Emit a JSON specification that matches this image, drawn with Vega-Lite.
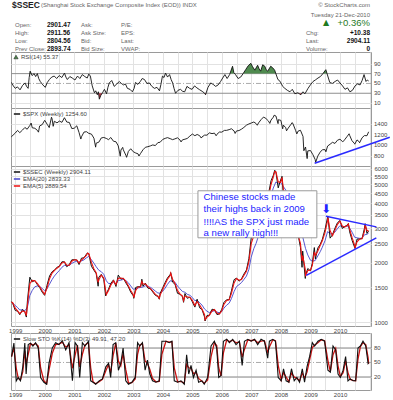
{
"$schema": "https://vega.github.io/schema/vega-lite/v6.json",
"padding": {"left": 8, "top": 0, "right": 0, "bottom": 0},
"spacing": 0,
"bounds": "flush",
"resolve": {"scale": {"color": "independent", "y": "independent", "x": "independent"}},
"config": {
  "font": "Liberation Sans",
  "view": {"stroke": "#9a9a9a", "strokeWidth": 1},
  "axis": {"domain": false, "ticks": false, "title": null, "labelFontSize": 6, "labelColor": "#444", "gridColor": "#e2e2e2", "gridWidth": 1, "labelPadding": 3, "labelOverlap": false},
  "legend": {"orient": "top-left", "offset": 2, "title": null, "labelFontSize": 6, "labelColor": "#444", "symbolType": "stroke", "symbolSize": 40, "symbolStrokeWidth": 1.5, "rowPadding": 0, "padding": 0, "labelLimit": 400, "labelOffset": 2},
  "text": {"font": "Liberation Sans"}
},
"datasets": {
  "hdr": [
    {"k":"t1","c":-1,"r":-0.5,"t":"$SSEC"},
    {"k":"t2","c":-1,"r":-0.5,"t":"(Shanghai Stock Exchange Composite Index (EOD)) INDX"},
    {"k":"rn","c":6,"r":-0.5,"t":"© StockCharts.com"},
    {"k":"rn","c":6,"r":0.75,"t":"Tuesday  21-Dec-2010"},
    {"k":"tri","c":5,"r":1.75,"t":"▲"},
    {"k":"pct","c":6,"r":1.75,"t":"+0.36%"},
    {"k":"lab","c":0,"r":2,"t":"Open:"},
    {"k":"lab","c":0,"r":3,"t":"High:"},
    {"k":"lab","c":0,"r":4,"t":"Low:"},
    {"k":"lab","c":0,"r":5,"t":"Prev Close:"},
    {"k":"val","c":1,"r":2,"t":"2901.47"},
    {"k":"val","c":1,"r":3,"t":"2911.56"},
    {"k":"val","c":1,"r":4,"t":"2804.56"},
    {"k":"val","c":1,"r":5,"t":"2893.74"},
    {"k":"lab","c":2,"r":2,"t":"Ask:"},
    {"k":"lab","c":2,"r":3,"t":"Ask Size:"},
    {"k":"lab","c":2,"r":4,"t":"Bid:"},
    {"k":"lab","c":2,"r":5,"t":"Bid Size:"},
    {"k":"lab","c":3,"r":2,"t":"P/E:"},
    {"k":"lab","c":3,"r":3,"t":"EPS:"},
    {"k":"lab","c":3,"r":4,"t":"Last:"},
    {"k":"lab","c":3,"r":5,"t":"VWAP:"},
    {"k":"lab","c":4,"r":3,"t":"Chg:"},
    {"k":"lab","c":4,"r":4,"t":"Last:"},
    {"k":"lab","c":4,"r":5,"t":"Volume:"},
    {"k":"rv","c":6,"r":3,"t":"+10.38"},
    {"k":"rv","c":6,"r":4,"t":"2904.11"},
    {"k":"rv","c":6,"r":5,"t":"0"}
  ],
  "rsiTicks": [{"y":10},{"y":30},{"y":50},{"y":70},{"y":90}],
  "spxTicks": [{"y":800},{"y":1000},{"y":1200},{"y":1400}],
  "stoTicks": [{"y":20},{"y":50},{"y":80}],
  "rsi": [
    {"d":"1998-11-15","v":52},{"d":"1998-12-08","v":45},{"d":"1999-01-01","v":40},{"d":"1999-01-28","v":43},{"d":"1999-03-01","v":37},{"d":"1999-04-01","v":46},{"d":"1999-05-03","v":51},{"d":"1999-05-20","v":44},{"d":"1999-06-09","v":40},{"d":"1999-06-22","v":62},{"d":"1999-07-04","v":75},{"d":"1999-07-28","v":66},{"d":"1999-08-22","v":70},{"d":"1999-09-10","v":64},{"d":"1999-10-01","v":70},{"d":"1999-10-18","v":60},{"d":"1999-11-06","v":54},{"d":"1999-12-08","v":47},
    {"d":"2000-01-07","v":42},{"d":"2000-02-01","v":52},{"d":"2000-02-27","v":58},{"d":"2000-03-27","v":63},{"d":"2000-04-27","v":65},{"d":"2000-05-27","v":60},{"d":"2000-06-27","v":66},{"d":"2000-07-30","v":62},{"d":"2000-09-01","v":71},{"d":"2000-09-18","v":63},{"d":"2000-10-06","v":58},{"d":"2000-11-06","v":64},{"d":"2000-12-06","v":61},
    {"d":"2001-01-08","v":57},{"d":"2001-02-09","v":65},{"d":"2001-03-10","v":60},{"d":"2001-04-09","v":68},{"d":"2001-05-10","v":64},{"d":"2001-06-09","v":61},{"d":"2001-06-28","v":69},{"d":"2001-07-18","v":65},{"d":"2001-08-10","v":45},{"d":"2001-09-06","v":31},{"d":"2001-09-22","v":35},{"d":"2001-10-12","v":27},{"d":"2001-10-25","v":33},{"d":"2001-11-06","v":18},{"d":"2001-11-25","v":26},{"d":"2001-12-15","v":31},
    {"d":"2002-01-08","v":38},{"d":"2002-02-03","v":29},{"d":"2002-02-20","v":42},{"d":"2002-03-09","v":51},{"d":"2002-04-08","v":56},{"d":"2002-05-09","v":44},{"d":"2002-06-10","v":49},{"d":"2002-07-12","v":54},{"d":"2002-08-05","v":50},{"d":"2002-09-01","v":47},{"d":"2002-09-25","v":49},{"d":"2002-10-19","v":40},{"d":"2002-11-20","v":38},{"d":"2002-12-20","v":33},
    {"d":"2003-01-10","v":40},{"d":"2003-01-27","v":52},{"d":"2003-02-25","v":48},{"d":"2003-03-28","v":54},{"d":"2003-04-20","v":60},{"d":"2003-05-18","v":58},{"d":"2003-06-18","v":50},{"d":"2003-07-18","v":51},{"d":"2003-08-18","v":44},{"d":"2003-09-18","v":40},{"d":"2003-10-20","v":42},{"d":"2003-11-20","v":35},{"d":"2003-12-08","v":48},{"d":"2003-12-27","v":65},
    {"d":"2004-01-15","v":62},{"d":"2004-02-03","v":71},{"d":"2004-02-28","v":63},{"d":"2004-03-24","v":68},{"d":"2004-04-12","v":58},{"d":"2004-05-01","v":51},{"d":"2004-05-18","v":40},{"d":"2004-06-06","v":30},{"d":"2004-07-06","v":36},{"d":"2004-08-06","v":38},{"d":"2004-09-01","v":34},{"d":"2004-09-27","v":33},{"d":"2004-10-25","v":44},{"d":"2004-11-27","v":40},{"d":"2004-12-27","v":38},
    {"d":"2005-01-27","v":45},{"d":"2005-02-25","v":41},{"d":"2005-04-01","v":37},{"d":"2005-05-01","v":34},{"d":"2005-06-01","v":30},{"d":"2005-06-12","v":27},{"d":"2005-07-12","v":42},{"d":"2005-08-15","v":51},{"d":"2005-09-15","v":48},{"d":"2005-10-15","v":44},{"d":"2005-11-15","v":47},{"d":"2005-12-15","v":54},
    {"d":"2006-01-10","v":61},{"d":"2006-02-06","v":68},{"d":"2006-03-06","v":60},{"d":"2006-04-06","v":68},{"d":"2006-05-12","v":85},{"d":"2006-05-28","v":72},{"d":"2006-06-18","v":68},{"d":"2006-07-20","v":60},{"d":"2006-08-21","v":63},{"d":"2006-09-20","v":70},{"d":"2006-10-21","v":78},{"d":"2006-11-22","v":86},{"d":"2006-12-24","v":91},
    {"d":"2007-01-15","v":84},{"d":"2007-02-12","v":77},{"d":"2007-03-18","v":87},{"d":"2007-04-05","v":80},{"d":"2007-04-25","v":75},{"d":"2007-05-20","v":88},{"d":"2007-06-15","v":85},{"d":"2007-07-01","v":78},{"d":"2007-07-21","v":75},{"d":"2007-08-27","v":85},{"d":"2007-09-20","v":82},{"d":"2007-10-15","v":77},{"d":"2007-11-24","v":58},{"d":"2007-12-12","v":56},
    {"d":"2008-01-01","v":51},{"d":"2008-01-22","v":44},{"d":"2008-02-18","v":40},{"d":"2008-03-20","v":36},{"d":"2008-04-21","v":33},{"d":"2008-05-20","v":38},{"d":"2008-06-21","v":29},{"d":"2008-07-28","v":31},{"d":"2008-08-15","v":29},{"d":"2008-09-03","v":27},{"d":"2008-09-28","v":33},{"d":"2008-10-24","v":29},{"d":"2008-12-01","v":40},{"d":"2008-12-30","v":47},
    {"d":"2009-02-01","v":54},{"d":"2009-03-01","v":57},{"d":"2009-04-03","v":61},{"d":"2009-05-03","v":64},{"d":"2009-06-03","v":70},{"d":"2009-07-09","v":78},{"d":"2009-08-27","v":52},{"d":"2009-09-28","v":50},{"d":"2009-11-01","v":54},{"d":"2009-12-01","v":57},
    {"d":"2010-01-01","v":51},{"d":"2010-02-01","v":45},{"d":"2010-03-03","v":38},{"d":"2010-04-03","v":41},{"d":"2010-05-03","v":33},{"d":"2010-06-03","v":36},{"d":"2010-07-06","v":45},{"d":"2010-08-05","v":49},{"d":"2010-09-06","v":47},{"d":"2010-10-01","v":56},{"d":"2010-10-25","v":68},{"d":"2010-11-18","v":54},{"d":"2010-12-05","v":57},{"d":"2010-12-21","v":55}
  ],
  "rsiHi": [
    {"d":"1999-06-29","v":70,"s":"a"},{"d":"1999-07-04","v":75,"s":"a"},{"d":"1999-07-17","v":70,"s":"a"},
    {"d":"2006-04-10","v":70,"s":"b"},{"d":"2006-05-12","v":85,"s":"b"},{"d":"2006-05-28","v":72,"s":"b"},{"d":"2006-06-07","v":70,"s":"b"},
    {"d":"2006-09-20","v":70,"s":"c"},{"d":"2006-10-21","v":78,"s":"c"},{"d":"2006-11-22","v":86,"s":"c"},{"d":"2006-12-24","v":91,"s":"c"},{"d":"2007-01-15","v":84,"s":"c"},{"d":"2007-02-12","v":77,"s":"c"},{"d":"2007-03-18","v":87,"s":"c"},{"d":"2007-04-05","v":80,"s":"c"},{"d":"2007-04-25","v":75,"s":"c"},{"d":"2007-05-20","v":88,"s":"c"},{"d":"2007-06-15","v":85,"s":"c"},{"d":"2007-07-01","v":78,"s":"c"},{"d":"2007-07-21","v":75,"s":"c"},{"d":"2007-08-27","v":85,"s":"c"},{"d":"2007-09-20","v":82,"s":"c"},{"d":"2007-10-15","v":77,"s":"c"},{"d":"2007-10-30","v":70,"s":"c"},
    {"d":"2009-06-03","v":70,"s":"d"},{"d":"2009-07-09","v":78,"s":"d"},{"d":"2009-07-24","v":70,"s":"d"}
  ],
  "rsiLo": [
    {"d":"2001-10-04","v":30,"s":"a"},{"d":"2001-10-12","v":27,"s":"a"},{"d":"2001-10-18","v":30,"s":"a"},
    {"d":"2001-10-27","v":30,"s":"b"},{"d":"2001-11-06","v":18,"s":"b"},{"d":"2001-11-25","v":26,"s":"b"},{"d":"2001-12-11","v":30,"s":"b"},
    {"d":"2002-01-31","v":30,"s":"c"},{"d":"2002-02-03","v":29,"s":"c"},{"d":"2002-02-04","v":30,"s":"c"},
    {"d":"2005-06-01","v":30,"s":"d"},{"d":"2005-06-12","v":27,"s":"d"},{"d":"2005-06-18","v":30,"s":"d"},
    {"d":"2008-06-18","v":30,"s":"e"},{"d":"2008-06-21","v":29,"s":"e"},{"d":"2008-07-09","v":30,"s":"e"},
    {"d":"2008-08-06","v":30,"s":"f"},{"d":"2008-08-15","v":29,"s":"f"},{"d":"2008-09-03","v":27,"s":"f"},{"d":"2008-09-15","v":30,"s":"f"},
    {"d":"2008-10-17","v":30,"s":"g"},{"d":"2008-10-24","v":29,"s":"g"},{"d":"2008-10-27","v":30,"s":"g"}
  ],
  "spx": [
    {"d":"1998-11-13","v":1160},{"d":"1998-12-31","v":1229},
    {"d":"1999-01-29","v":1280},{"d":"1999-02-26","v":1238},{"d":"1999-03-31","v":1286},{"d":"1999-04-30","v":1335},{"d":"1999-05-28","v":1302},{"d":"1999-06-30","v":1373},{"d":"1999-07-16","v":1418},{"d":"1999-07-30","v":1329},{"d":"1999-08-31","v":1320},{"d":"1999-09-30","v":1283},{"d":"1999-10-15","v":1247},{"d":"1999-10-29","v":1363},{"d":"1999-11-30","v":1389},{"d":"1999-12-31","v":1469},
    {"d":"2000-01-31","v":1394},{"d":"2000-02-25","v":1333},{"d":"2000-03-24","v":1527},{"d":"2000-03-31","v":1499},{"d":"2000-04-14","v":1357},{"d":"2000-04-28","v":1452},{"d":"2000-05-31","v":1421},{"d":"2000-06-30","v":1455},{"d":"2000-07-31","v":1431},{"d":"2000-08-31","v":1518},{"d":"2000-09-29","v":1437},{"d":"2000-10-31","v":1429},{"d":"2000-11-30","v":1315},{"d":"2000-12-29","v":1320},
    {"d":"2001-01-31","v":1366},{"d":"2001-02-28","v":1240},{"d":"2001-03-22","v":1118},{"d":"2001-03-30","v":1160},{"d":"2001-04-30","v":1249},{"d":"2001-05-31","v":1256},{"d":"2001-06-29","v":1224},{"d":"2001-07-31","v":1211},{"d":"2001-08-31","v":1134},{"d":"2001-09-21","v":966},{"d":"2001-09-28","v":1041},{"d":"2001-10-31","v":1060},{"d":"2001-11-30","v":1139},{"d":"2001-12-31","v":1148},
    {"d":"2002-01-31","v":1130},{"d":"2002-02-28","v":1107},{"d":"2002-03-28","v":1147},{"d":"2002-04-30","v":1077},{"d":"2002-05-31","v":1067},{"d":"2002-06-28","v":990},{"d":"2002-07-23","v":797},{"d":"2002-07-31","v":912},{"d":"2002-08-22","v":962},{"d":"2002-08-30","v":916},{"d":"2002-09-30","v":815},{"d":"2002-10-09","v":776},{"d":"2002-10-31","v":886},{"d":"2002-11-29","v":936},{"d":"2002-12-31","v":880},
    {"d":"2003-01-31","v":856},{"d":"2003-02-28","v":841},{"d":"2003-03-11","v":800},{"d":"2003-03-31","v":848},{"d":"2003-04-30","v":917},{"d":"2003-05-30","v":964},{"d":"2003-06-30","v":975},{"d":"2003-07-31","v":990},{"d":"2003-08-29","v":1008},{"d":"2003-09-30","v":996},{"d":"2003-10-31","v":1051},{"d":"2003-11-28","v":1058},{"d":"2003-12-31","v":1112},
    {"d":"2004-01-30","v":1131},{"d":"2004-02-27","v":1145},{"d":"2004-03-31","v":1126},{"d":"2004-04-30","v":1107},{"d":"2004-05-28","v":1121},{"d":"2004-06-30","v":1141},{"d":"2004-07-30","v":1102},{"d":"2004-08-13","v":1064},{"d":"2004-08-31","v":1104},{"d":"2004-09-30","v":1115},{"d":"2004-10-29","v":1130},{"d":"2004-11-30","v":1174},{"d":"2004-12-31","v":1212},
    {"d":"2005-01-31","v":1181},{"d":"2005-02-28","v":1204},{"d":"2005-03-31","v":1181},{"d":"2005-04-20","v":1137},{"d":"2005-04-29","v":1157},{"d":"2005-05-31","v":1192},{"d":"2005-06-30","v":1191},{"d":"2005-07-29","v":1234},{"d":"2005-08-31","v":1220},{"d":"2005-09-30","v":1229},{"d":"2005-10-21","v":1180},{"d":"2005-10-31","v":1207},{"d":"2005-11-30","v":1249},{"d":"2005-12-30","v":1248},
    {"d":"2006-01-31","v":1280},{"d":"2006-02-28","v":1281},{"d":"2006-03-31","v":1295},{"d":"2006-04-28","v":1311},{"d":"2006-05-31","v":1270},{"d":"2006-06-13","v":1223},{"d":"2006-06-30","v":1270},{"d":"2006-07-31","v":1277},{"d":"2006-08-31","v":1304},{"d":"2006-09-29","v":1336},{"d":"2006-10-31","v":1378},{"d":"2006-11-30","v":1401},{"d":"2006-12-29","v":1418},
    {"d":"2007-01-31","v":1438},{"d":"2007-02-28","v":1407},{"d":"2007-03-14","v":1377},{"d":"2007-03-30","v":1421},{"d":"2007-04-30","v":1482},{"d":"2007-05-31","v":1531},{"d":"2007-06-29","v":1503},{"d":"2007-07-31","v":1455},{"d":"2007-08-16","v":1411},{"d":"2007-08-31","v":1474},{"d":"2007-09-28","v":1527},{"d":"2007-10-09","v":1565},{"d":"2007-10-31","v":1549},{"d":"2007-11-26","v":1407},{"d":"2007-11-30","v":1481},{"d":"2007-12-31","v":1468},
    {"d":"2008-01-22","v":1310},{"d":"2008-01-31","v":1379},{"d":"2008-02-29","v":1331},{"d":"2008-03-10","v":1273},{"d":"2008-03-31","v":1323},{"d":"2008-04-30","v":1386},{"d":"2008-05-19","v":1426},{"d":"2008-05-30","v":1400},{"d":"2008-06-30","v":1280},{"d":"2008-07-15","v":1214},{"d":"2008-07-31","v":1267},{"d":"2008-08-29","v":1283},{"d":"2008-09-30","v":1166},{"d":"2008-10-10","v":899},{"d":"2008-10-31","v":969},{"d":"2008-11-20","v":752},{"d":"2008-11-28","v":896},{"d":"2008-12-31","v":903},
    {"d":"2009-01-30","v":826},{"d":"2009-02-27","v":735},{"d":"2009-03-06","v":683},{"d":"2009-03-31","v":798},{"d":"2009-04-30","v":873},{"d":"2009-05-29","v":919},{"d":"2009-06-30","v":919},{"d":"2009-07-10","v":879},{"d":"2009-07-31","v":987},{"d":"2009-08-31","v":1021},{"d":"2009-09-30","v":1057},{"d":"2009-10-30","v":1036},{"d":"2009-11-30","v":1096},{"d":"2009-12-31","v":1115},
    {"d":"2010-01-29","v":1074},{"d":"2010-02-05","v":1066},{"d":"2010-02-26","v":1104},{"d":"2010-03-31","v":1169},{"d":"2010-04-23","v":1217},{"d":"2010-04-30","v":1187},{"d":"2010-05-28","v":1089},{"d":"2010-06-30","v":1031},{"d":"2010-07-02","v":1022},{"d":"2010-07-30","v":1102},{"d":"2010-08-27","v":1065},{"d":"2010-08-31","v":1049},{"d":"2010-09-30","v":1141},{"d":"2010-10-29","v":1183},{"d":"2010-11-30","v":1181},{"d":"2010-12-21","v":1254}
  ],
  "spxTrend": [{"d":"2009-02-21","v":665},{"d":"2011-09-08","v":1151}],
  "ssec": [
    {"d":"1998-11-15","p":1270,"e5":1265},{"d":"1998-11-30","p":1247,"e5":1254},{"d":"1998-12-31","p":1147,"e5":1177},{"d":"1999-01-29","p":1135,"e5":1139},{"d":"1999-02-26","p":1090,"e5":1104},{"d":"1999-03-31","p":1158,"e5":1138},{"d":"1999-04-30","p":1120,"e5":1131},{"d":"1999-05-18","p":1060,"e5":1078},{"d":"1999-05-31","p":1279,"e5":1213},{"d":"1999-06-30","p":1689,"e5":1566},{"d":"1999-07-30","p":1601,"e5":1627},{"d":"1999-08-31","p":1627,"e5":1619},{"d":"1999-09-30","p":1550,"e5":1573},{"d":"1999-10-29","p":1500,"e5":1515},{"d":"1999-11-30","p":1418,"e5":1443},{"d":"1999-12-30","p":1367,"e5":1382},
    {"d":"2000-01-28","p":1535,"e5":1485},{"d":"2000-02-29","p":1714,"e5":1660},{"d":"2000-03-31","p":1800,"e5":1774},{"d":"2000-04-28","p":1836,"e5":1825},{"d":"2000-05-31","p":1894,"e5":1877},{"d":"2000-06-30","p":1928,"e5":1918},{"d":"2000-07-31","p":2023,"e5":1995},{"d":"2000-08-31","p":2022,"e5":2022},{"d":"2000-09-29","p":1910,"e5":1944},{"d":"2000-10-31","p":1961,"e5":1946},{"d":"2000-11-30","p":2070,"e5":2037},{"d":"2000-12-29","p":2073,"e5":2072},
    {"d":"2001-01-31","p":2066,"e5":2068},{"d":"2001-02-28","p":1959,"e5":1991},{"d":"2001-03-30","p":2112,"e5":2066},{"d":"2001-04-30","p":2119,"e5":2117},{"d":"2001-05-31","p":2214,"e5":2186},{"d":"2001-06-13","p":2245,"e5":2236},{"d":"2001-06-29","p":2218,"e5":2226},{"d":"2001-07-31","p":1920,"e5":2009},{"d":"2001-08-31","p":1834,"e5":1860},{"d":"2001-09-28","p":1761,"e5":1783},{"d":"2001-10-22","p":1520,"e5":1592},{"d":"2001-10-31","p":1690,"e5":1639},{"d":"2001-11-30","p":1747,"e5":1730},{"d":"2001-12-31","p":1646,"e5":1676},
    {"d":"2002-01-23","p":1358,"e5":1444},{"d":"2002-01-31","p":1390,"e5":1380},{"d":"2002-02-28","p":1470,"e5":1446},{"d":"2002-03-29","p":1574,"e5":1543},{"d":"2002-04-30","p":1638,"e5":1619},{"d":"2002-05-31","p":1515,"e5":1552},{"d":"2002-06-28","p":1732,"e5":1667},{"d":"2002-07-31","p":1651,"e5":1675},{"d":"2002-08-30","p":1670,"e5":1664},{"d":"2002-09-30","p":1581,"e5":1608},{"d":"2002-10-31","p":1508,"e5":1530},{"d":"2002-11-29","p":1420,"e5":1446},{"d":"2002-12-31","p":1358,"e5":1377},
    {"d":"2003-01-06","p":1320,"e5":1331},{"d":"2003-01-30","p":1500,"e5":1446},{"d":"2003-02-28","p":1512,"e5":1508},{"d":"2003-03-31","p":1510,"e5":1511},{"d":"2003-04-16","p":1650,"e5":1608},{"d":"2003-04-30","p":1521,"e5":1560},{"d":"2003-05-30","p":1576,"e5":1560},{"d":"2003-06-30","p":1487,"e5":1514},{"d":"2003-07-31","p":1476,"e5":1479},{"d":"2003-08-29","p":1421,"e5":1438},{"d":"2003-09-30","p":1367,"e5":1383},{"d":"2003-10-31","p":1348,"e5":1354},{"d":"2003-11-18","p":1307,"e5":1319},{"d":"2003-11-28","p":1397,"e5":1370},{"d":"2003-12-31","p":1497,"e5":1467},
    {"d":"2004-01-30","p":1590,"e5":1562},{"d":"2004-02-27","p":1675,"e5":1650},{"d":"2004-03-31","p":1742,"e5":1722},{"d":"2004-04-07","p":1783,"e5":1771},{"d":"2004-04-30","p":1595,"e5":1651},{"d":"2004-05-31","p":1555,"e5":1567},{"d":"2004-06-30","p":1399,"e5":1446},{"d":"2004-07-30","p":1386,"e5":1390},{"d":"2004-08-31","p":1342,"e5":1355},{"d":"2004-09-13","p":1260,"e5":1285},{"d":"2004-09-30","p":1396,"e5":1355},{"d":"2004-10-29","p":1320,"e5":1343},{"d":"2004-11-30","p":1340,"e5":1334},{"d":"2004-12-31","p":1266,"e5":1288},
    {"d":"2005-01-31","p":1191,"e5":1214},{"d":"2005-02-28","p":1306,"e5":1272},{"d":"2005-03-31","p":1181,"e5":1219},{"d":"2005-04-29","p":1159,"e5":1166},{"d":"2005-05-31","p":1060,"e5":1090},{"d":"2005-06-06","p":1013,"e5":1027},{"d":"2005-06-30","p":1080,"e5":1060},{"d":"2005-07-29","p":1083,"e5":1082},{"d":"2005-08-31","p":1162,"e5":1138},{"d":"2005-09-30","p":1155,"e5":1157},{"d":"2005-10-31","p":1092,"e5":1111},{"d":"2005-11-30","p":1099,"e5":1097},{"d":"2005-12-30","p":1161,"e5":1142},
    {"d":"2006-01-25","p":1258,"e5":1229},{"d":"2006-02-28","p":1299,"e5":1287},{"d":"2006-03-31","p":1298,"e5":1298},{"d":"2006-04-28","p":1440,"e5":1397},{"d":"2006-05-31","p":1641,"e5":1581},{"d":"2006-06-30","p":1672,"e5":1663},{"d":"2006-07-31","p":1612,"e5":1630},{"d":"2006-08-31","p":1658,"e5":1644},{"d":"2006-09-29","p":1752,"e5":1724},{"d":"2006-10-31","p":1837,"e5":1812},{"d":"2006-11-30","p":2099,"e5":2020},{"d":"2006-12-29","p":2675,"e5":2502},
    {"d":"2007-01-31","p":2786,"e5":2753},{"d":"2007-02-16","p":2998,"e5":2934},{"d":"2007-02-27","p":2771,"e5":2839},{"d":"2007-03-30","p":3183,"e5":3059},{"d":"2007-04-30","p":3841,"e5":3644},{"d":"2007-05-29","p":4335,"e5":4187},{"d":"2007-06-05","p":3767,"e5":3937},{"d":"2007-06-29","p":3820,"e5":3804},{"d":"2007-07-31","p":4471,"e5":4276},{"d":"2007-08-31","p":5218,"e5":4994},{"d":"2007-09-28","p":5552,"e5":5452},{"d":"2007-10-16","p":5900,"e5":5800},{"d":"2007-10-31","p":5754,"e5":5790},{"d":"2007-11-28","p":4803,"e5":5148},{"d":"2007-12-28","p":5261,"e5":5124},
    {"d":"2008-01-14","p":5497,"e5":5426},{"d":"2008-01-31","p":4383,"e5":4717},{"d":"2008-02-29","p":4348,"e5":4359},{"d":"2008-03-31","p":3472,"e5":3735},{"d":"2008-04-18","p":3094,"e5":3207},{"d":"2008-04-30","p":3693,"e5":3513},{"d":"2008-05-30","p":3433,"e5":3511},{"d":"2008-06-30","p":2736,"e5":2945},{"d":"2008-07-31","p":2775,"e5":2763},{"d":"2008-08-29","p":2397,"e5":2510},{"d":"2008-09-18","p":1896,"e5":2046},{"d":"2008-09-26","p":2293,"e5":2174},{"d":"2008-10-28","p":1665,"e5":1853},{"d":"2008-10-31","p":1728,"e5":1709},{"d":"2008-11-28","p":1871,"e5":1828},{"d":"2008-12-31","p":1820,"e5":1835},
    {"d":"2009-01-23","p":1990,"e5":1939},{"d":"2009-02-17","p":2389,"e5":2269},{"d":"2009-03-02","p":2093,"e5":2182},{"d":"2009-03-31","p":2373,"e5":2289},{"d":"2009-04-30","p":2477,"e5":2446},{"d":"2009-05-27","p":2632,"e5":2586},{"d":"2009-06-30","p":2959,"e5":2861},{"d":"2009-07-31","p":3412,"e5":3276},{"d":"2009-08-04","p":3440,"e5":3400},{"d":"2009-08-31","p":2667,"e5":2908},{"d":"2009-09-30","p":2779,"e5":2745},{"d":"2009-10-30","p":2995,"e5":2930},{"d":"2009-11-30","p":3195,"e5":3135},{"d":"2009-12-31","p":3277,"e5":3252},
    {"d":"2010-01-29","p":2989,"e5":3075},{"d":"2010-02-26","p":3051,"e5":3032},{"d":"2010-03-31","p":3110,"e5":3092},{"d":"2010-04-14","p":3166,"e5":3149},{"d":"2010-04-30","p":2870,"e5":2959},{"d":"2010-05-31","p":2592,"e5":2675},{"d":"2010-06-30","p":2398,"e5":2456},{"d":"2010-07-05","p":2363,"e5":2374},{"d":"2010-07-30","p":2638,"e5":2556},{"d":"2010-08-31","p":2639,"e5":2639},{"d":"2010-09-30","p":2656,"e5":2651},{"d":"2010-10-29","p":2978,"e5":2881},{"d":"2010-11-08","p":3159,"e5":3105},{"d":"2010-11-30","p":2820,"e5":2922},{"d":"2010-12-21","p":2904,"e5":2890}
  ],
  "e20": [
    {"d":"1998-11-30","v":1250},{"d":"1998-12-31","v":1214},{"d":"1999-01-29","v":1186},{"d":"1999-02-26","v":1152},{"d":"1999-03-31","v":1154},{"d":"1999-04-30","v":1142},{"d":"1999-05-31","v":1190},{"d":"1999-06-30","v":1365},{"d":"1999-07-30","v":1448},{"d":"1999-08-31","v":1511},{"d":"1999-09-30","v":1525},{"d":"1999-10-29","v":1516},{"d":"1999-11-30","v":1482},{"d":"1999-12-30","v":1442},
    {"d":"2000-01-28","v":1475},{"d":"2000-02-29","v":1559},{"d":"2000-03-31","v":1643},{"d":"2000-04-28","v":1711},{"d":"2000-05-31","v":1775},{"d":"2000-06-30","v":1829},{"d":"2000-07-31","v":1897},{"d":"2000-08-31","v":1941},{"d":"2000-09-29","v":1930},{"d":"2000-10-31","v":1941},{"d":"2000-11-30","v":1986},{"d":"2000-12-29","v":2016},
    {"d":"2001-01-31","v":2034},{"d":"2001-02-28","v":2008},{"d":"2001-03-30","v":2044},{"d":"2001-04-30","v":2070},{"d":"2001-05-31","v":2120},{"d":"2001-06-29","v":2154},{"d":"2001-07-31","v":2072},{"d":"2001-08-31","v":1989},{"d":"2001-09-28","v":1909},{"d":"2001-10-31","v":1832},{"d":"2001-11-30","v":1802},{"d":"2001-12-31","v":1747},
    {"d":"2002-01-31","v":1622},{"d":"2002-02-28","v":1569},{"d":"2002-03-29","v":1571},{"d":"2002-04-30","v":1594},{"d":"2002-05-31","v":1566},{"d":"2002-06-28","v":1624},{"d":"2002-07-31","v":1633},{"d":"2002-08-30","v":1646},{"d":"2002-09-30","v":1623},{"d":"2002-10-31","v":1583},{"d":"2002-11-29","v":1526},{"d":"2002-12-31","v":1467},
    {"d":"2003-01-30","v":1479},{"d":"2003-02-28","v":1491},{"d":"2003-03-31","v":1498},{"d":"2003-04-30","v":1506},{"d":"2003-05-30","v":1530},{"d":"2003-06-30","v":1515},{"d":"2003-07-31","v":1501},{"d":"2003-08-29","v":1473},{"d":"2003-09-30","v":1436},{"d":"2003-10-31","v":1405},{"d":"2003-11-28","v":1402},{"d":"2003-12-31","v":1435},
    {"d":"2004-01-30","v":1489},{"d":"2004-02-27","v":1554},{"d":"2004-03-31","v":1620},{"d":"2004-04-30","v":1611},{"d":"2004-05-31","v":1591},{"d":"2004-06-30","v":1524},{"d":"2004-07-30","v":1476},{"d":"2004-08-31","v":1429},{"d":"2004-09-30","v":1417},{"d":"2004-10-29","v":1383},{"d":"2004-11-30","v":1368},{"d":"2004-12-31","v":1332},
    {"d":"2005-01-31","v":1283},{"d":"2005-02-28","v":1291},{"d":"2005-03-31","v":1253},{"d":"2005-04-29","v":1220},{"d":"2005-05-31","v":1164},{"d":"2005-06-30","v":1135},{"d":"2005-07-29","v":1117},{"d":"2005-08-31","v":1133},{"d":"2005-09-30","v":1141},{"d":"2005-10-31","v":1124},{"d":"2005-11-30","v":1115},{"d":"2005-12-30","v":1131},
    {"d":"2006-01-25","v":1176},{"d":"2006-02-28","v":1219},{"d":"2006-03-31","v":1247},{"d":"2006-04-28","v":1315},{"d":"2006-05-31","v":1429},{"d":"2006-06-30","v":1514},{"d":"2006-07-31","v":1548},{"d":"2006-08-31","v":1587},{"d":"2006-09-29","v":1645},{"d":"2006-10-31","v":1712},{"d":"2006-11-30","v":1848},{"d":"2006-12-29","v":2138},
    {"d":"2007-01-31","v":2365},{"d":"2007-02-27","v":2507},{"d":"2007-03-30","v":2744},{"d":"2007-04-30","v":3128},{"d":"2007-05-29","v":3551},{"d":"2007-06-29","v":3645},{"d":"2007-07-31","v":3934},{"d":"2007-08-31","v":4383},{"d":"2007-09-28","v":4792},{"d":"2007-10-31","v":5150},{"d":"2007-11-28","v":5030},{"d":"2007-12-28","v":5110},
    {"d":"2008-01-31","v":4869},{"d":"2008-02-29","v":4687},{"d":"2008-03-31","v":4262},{"d":"2008-04-30","v":4063},{"d":"2008-05-30","v":3843},{"d":"2008-06-30","v":3456},{"d":"2008-07-31","v":3218},{"d":"2008-08-29","v":2931},{"d":"2008-09-26","v":2708},{"d":"2008-10-31","v":2365},{"d":"2008-11-28","v":2192},{"d":"2008-12-31","v":2062},
    {"d":"2009-01-23","v":2037},{"d":"2009-02-27","v":2053},{"d":"2009-03-31","v":2165},{"d":"2009-04-30","v":2274},{"d":"2009-05-27","v":2399},{"d":"2009-06-30","v":2595},{"d":"2009-07-31","v":2881},{"d":"2009-08-31","v":2806},{"d":"2009-09-30","v":2797},{"d":"2009-10-30","v":2866},{"d":"2009-11-30","v":2981},{"d":"2009-12-31","v":3085},
    {"d":"2010-01-29","v":3051},{"d":"2010-02-26","v":3051},{"d":"2010-03-31","v":3072},{"d":"2010-04-30","v":3001},{"d":"2010-05-31","v":2858},{"d":"2010-06-30","v":2697},{"d":"2010-07-30","v":2676},{"d":"2010-08-31","v":2663},{"d":"2010-09-30","v":2661},{"d":"2010-10-29","v":2772},{"d":"2010-11-30","v":2789},{"d":"2010-12-21","v":2833}
  ],
  "tri": [
    {"d":"2009-07-11","v":3442,"s":"up"},{"d":"2011-03-26","v":3043,"s":"up"},
    {"d":"2008-11-09","v":1727,"s":"lo"},{"d":"2011-03-26","v":2678,"s":"lo"}
  ],
  "note": [
    {"d":"2005-05-19","v":4313,"t":"Chinese stocks made"},
    {"d":"2005-05-19","v":3752,"t":"their highs back in 2009"},
    {"d":"2005-05-19","v":3225,"t":"!!!!AS the SPX just made"},
    {"d":"2005-05-19","v":2838,"t":"a new rally high!!!"}
  ],
  "sto": [
    {"d":"1998-11-16","k":62,"m":62},{"d":"1998-12-15","k":90,"m":81},{"d":"1999-01-13","k":12,"m":38},{"d":"1999-02-07","k":19,"m":17},{"d":"1999-03-06","k":12,"m":14},{"d":"1999-04-04","k":41,"m":31},{"d":"1999-04-29","k":90,"m":74},{"d":"1999-05-15","k":26,"m":47},{"d":"1999-06-10","k":87,"m":67},{"d":"1999-07-08","k":90,"m":89},{"d":"1999-08-07","k":84,"m":86},{"d":"1999-09-09","k":91,"m":89},{"d":"1999-10-12","k":80,"m":84},{"d":"1999-11-10","k":19,"m":39},{"d":"1999-12-21","k":9,"m":12},
    {"d":"2000-01-24","k":5,"m":6},{"d":"2000-02-22","k":48,"m":34},{"d":"2000-04-03","k":80,"m":69},{"d":"2000-05-14","k":91,"m":87},{"d":"2000-06-24","k":87,"m":88},{"d":"2000-08-05","k":95,"m":92},{"d":"2000-09-16","k":76,"m":82},{"d":"2000-10-27","k":91,"m":86},{"d":"2000-12-08","k":12,"m":38},
    {"d":"2001-01-10","k":91,"m":65},{"d":"2001-02-08","k":84,"m":86},{"d":"2001-03-08","k":19,"m":41},{"d":"2001-04-10","k":91,"m":67},{"d":"2001-05-12","k":84,"m":86},{"d":"2001-06-24","k":94,"m":91},{"d":"2001-07-22","k":12,"m":39},{"d":"2001-08-20","k":9,"m":10},{"d":"2001-09-22","k":5,"m":6},{"d":"2001-11-03","k":12,"m":10},{"d":"2001-12-14","k":16,"m":15},
    {"d":"2002-01-25","k":41,"m":33},{"d":"2002-02-28","k":48,"m":46},{"d":"2002-03-26","k":19,"m":29},{"d":"2002-04-25","k":87,"m":64},{"d":"2002-05-28","k":91,"m":90},{"d":"2002-06-30","k":34,"m":53},{"d":"2002-07-29","k":48,"m":43},{"d":"2002-08-27","k":80,"m":69},{"d":"2002-09-29","k":12,"m":35},{"d":"2002-11-02","k":5,"m":7},{"d":"2002-12-13","k":9,"m":8},
    {"d":"2003-01-24","k":19,"m":16},{"d":"2003-02-22","k":91,"m":67},{"d":"2003-03-21","k":84,"m":86},{"d":"2003-04-23","k":91,"m":89},{"d":"2003-05-26","k":34,"m":53},{"d":"2003-06-24","k":55,"m":48},{"d":"2003-07-23","k":26,"m":36},{"d":"2003-08-26","k":12,"m":17},{"d":"2003-10-06","k":9,"m":10},{"d":"2003-11-17","k":12,"m":11},{"d":"2003-12-20","k":94,"m":67},
    {"d":"2004-02-08","k":94,"m":94},{"d":"2004-03-19","k":91,"m":92},{"d":"2004-04-22","k":94,"m":93},{"d":"2004-05-21","k":12,"m":39},{"d":"2004-07-01","k":9,"m":10},{"d":"2004-08-12","k":12,"m":11},{"d":"2004-09-22","k":5,"m":7},{"d":"2004-10-21","k":66,"m":46},{"d":"2004-11-16","k":26,"m":39},{"d":"2004-12-14","k":44,"m":38},
    {"d":"2005-01-13","k":19,"m":27},{"d":"2005-02-15","k":34,"m":29},{"d":"2005-03-18","k":9,"m":17},{"d":"2005-04-29","k":12,"m":11},{"d":"2005-05-27","k":5,"m":7},{"d":"2005-07-08","k":19,"m":14},{"d":"2005-08-19","k":84,"m":62},{"d":"2005-09-29","k":94,"m":91},{"d":"2005-10-28","k":80,"m":85},{"d":"2005-11-22","k":19,"m":39},{"d":"2005-12-21","k":23,"m":22},
    {"d":"2006-01-19","k":94,"m":70},{"d":"2006-03-01","k":98,"m":97},{"d":"2006-04-03","k":91,"m":93},{"d":"2006-05-14","k":98,"m":96},{"d":"2006-06-24","k":87,"m":91},{"d":"2006-08-05","k":94,"m":92},{"d":"2006-09-08","k":44,"m":61},{"d":"2006-10-06","k":94,"m":77},{"d":"2006-11-17","k":98,"m":97},{"d":"2006-12-28","k":94,"m":95},
    {"d":"2007-02-08","k":98,"m":97},{"d":"2007-03-19","k":87,"m":91},{"d":"2007-04-30","k":98,"m":94},{"d":"2007-06-10","k":94,"m":95},{"d":"2007-07-21","k":59,"m":71},{"d":"2007-08-11","k":94,"m":82},{"d":"2007-09-22","k":98,"m":97},{"d":"2007-10-25","k":94,"m":95},{"d":"2007-11-28","k":19,"m":44},
    {"d":"2008-01-04","k":12,"m":14},{"d":"2008-02-02","k":37,"m":29},{"d":"2008-03-05","k":12,"m":20},{"d":"2008-04-08","k":9,"m":10},{"d":"2008-05-10","k":37,"m":28},{"d":"2008-06-13","k":12,"m":20},{"d":"2008-07-16","k":19,"m":17},{"d":"2008-08-18","k":9,"m":12},{"d":"2008-09-21","k":37,"m":28},{"d":"2008-10-19","k":9,"m":18},{"d":"2008-11-18","k":41,"m":30},{"d":"2008-12-20","k":62,"m":55},
    {"d":"2009-01-23","k":91,"m":81},{"d":"2009-02-21","k":84,"m":86},{"d":"2009-04-02","k":94,"m":91},{"d":"2009-05-13","k":98,"m":97},{"d":"2009-06-24","k":94,"m":95},{"d":"2009-08-04","k":34,"m":54},{"d":"2009-09-03","k":30,"m":31},{"d":"2009-10-06","k":84,"m":66},{"d":"2009-11-08","k":76,"m":79},{"d":"2009-12-07","k":26,"m":43},
    {"d":"2010-01-05","k":19,"m":21},{"d":"2010-02-08","k":34,"m":29},{"d":"2010-03-11","k":62,"m":53},{"d":"2010-04-09","k":12,"m":29},{"d":"2010-05-08","k":16,"m":15},{"d":"2010-06-10","k":12,"m":13},{"d":"2010-07-13","k":12,"m":12},{"d":"2010-08-11","k":80,"m":57},{"d":"2010-09-10","k":84,"m":83},{"d":"2010-10-12","k":94,"m":91},{"d":"2010-11-15","k":84,"m":87},{"d":"2010-12-14","k":48,"m":60},{"d":"2010-12-21","k":50,"m":47}
  ]
},
"vconcat": [
  {
    "width": 360, "height": 52,
    "view": {"stroke": null},
    "data": {"name": "hdr"},
    "encoding": {
      "x": {"field": "c", "type": "quantitative", "scale": {"domain": [-1,0,1,2,3,4,5,6], "range": [1,4,36,70,110,295,315,359]}, "axis": null},
      "y": {"field": "r", "type": "quantitative", "scale": {"domain": [-1.125, 5.375], "reverse": true}, "axis": null}
    },
    "layer": [
      {"data": {"values": [{"n": 1}]}, "mark": {"type": "rect", "fillOpacity": 0, "stroke": "#b8b8b8", "strokeWidth": 1},
       "encoding": {"x": {"datum": -1, "type": "quantitative", "axis": null}, "x2": {"datum": 6.5}, "y": {"datum": 0, "type": "quantitative", "axis": null}, "y2": {"datum": 5.375}}},
      {"transform": [{"filter": "datum.k == 't1'"}], "mark": {"type": "text", "align": "left", "baseline": "middle", "fontSize": 8.5, "fontWeight": "bold", "color": "#222"}, "encoding": {"text": {"field": "t"}}},
      {"transform": [{"filter": "datum.k == 't2'"}], "mark": {"type": "text", "align": "left", "baseline": "middle", "dx": 29, "fontSize": 6, "color": "#666"}, "encoding": {"text": {"field": "t"}}},
      {"transform": [{"filter": "datum.k == 'lab'"}], "mark": {"type": "text", "align": "left", "baseline": "middle", "fontSize": 6, "color": "#666"}, "encoding": {"text": {"field": "t"}}},
      {"transform": [{"filter": "datum.k == 'val'"}], "mark": {"type": "text", "align": "left", "baseline": "middle", "fontSize": 6.5, "fontWeight": "bold", "color": "#111"}, "encoding": {"text": {"field": "t"}}},
      {"transform": [{"filter": "datum.k == 'rn'"}], "mark": {"type": "text", "align": "right", "baseline": "middle", "fontSize": 6, "color": "#666"}, "encoding": {"text": {"field": "t"}}},
      {"transform": [{"filter": "datum.k == 'rv'"}], "mark": {"type": "text", "align": "right", "baseline": "middle", "fontSize": 6.5, "fontWeight": "bold", "color": "#111"}, "encoding": {"text": {"field": "t"}}},
      {"transform": [{"filter": "datum.k == 'pct'"}], "mark": {"type": "text", "align": "right", "baseline": "middle", "fontSize": 9.5, "color": "#1f7a1f"}, "encoding": {"text": {"field": "t"}}},
      {"transform": [{"filter": "datum.k == 'tri'"}], "mark": {"type": "text", "align": "center", "baseline": "middle", "fontSize": 8, "color": "#1f7a1f", "font": "DejaVu Sans"}, "encoding": {"text": {"field": "t"}}}
    ]
  },
  {
    "width": 360, "height": 56,
    "layer": [
      {"data": {"name": "rsi"}, "mark": {"type": "line", "strokeWidth": 0, "opacity": 0},
       "encoding": {"x": {"field": "d", "type": "temporal", "scale": {"domain": [{"year":1998,"month":11,"date":9},{"year":2011,"month":1,"date":19}]}, "axis": {"labels": false, "grid": true, "tickCount": {"interval": "month", "step": 6}}},
                    "y": {"field": "v", "type": "quantitative", "scale": {"domain": [0, 114]}, "axis": {"orient": "right", "values": [10, 30, 50, 70, 90], "labels": false, "grid": true}}}},
      {"data": {"values": [{"y": 70}, {"y": 30}]}, "mark": {"type": "rule", "color": "#8f8f8f", "strokeWidth": 1},
       "encoding": {"y": {"field": "y", "type": "quantitative", "scale": {"domain": [0, 114]}}}},
      {"data": {"values": [{"y": 50}]}, "mark": {"type": "rule", "color": "#aaaaaa", "strokeWidth": 1, "strokeDash": [5, 2, 1, 2]},
       "encoding": {"y": {"field": "y", "type": "quantitative", "scale": {"domain": [0, 114]}}}},
      {"data": {"name": "rsiTicks"}, "mark": {"type": "text", "align": "left", "baseline": "middle", "dx": 3, "fontSize": 6, "color": "#444", "clip": false},
       "encoding": {"x": {"datum": {"year": 2011, "month": 1, "date": 19}, "type": "temporal", "scale": {"domain": [{"year":1998,"month":11,"date":9},{"year":2011,"month":1,"date":19}]}},
                    "y": {"field": "y", "type": "quantitative", "scale": {"domain": [0, 114]}}, "text": {"field": "y"}}},
      {"data": {"name": "rsiHi"}, "mark": {"type": "area", "color": "#4f8a4f", "opacity": 1},
       "encoding": {"x": {"field": "d", "type": "temporal", "scale": {"domain": [{"year":1998,"month":11,"date":9},{"year":2011,"month":1,"date":19}]}},
                    "y": {"field": "v", "type": "quantitative", "scale": {"domain": [0, 114]}}, "y2": {"datum": 70}, "detail": {"field": "s"}}},
      {"data": {"name": "rsiLo"}, "mark": {"type": "area", "color": "#b8404f", "opacity": 1},
       "encoding": {"x": {"field": "d", "type": "temporal", "scale": {"domain": [{"year":1998,"month":11,"date":9},{"year":2011,"month":1,"date":19}]}},
                    "y": {"field": "v", "type": "quantitative", "scale": {"domain": [0, 114]}}, "y2": {"datum": 30}, "detail": {"field": "s"}}},
      {"data": {"name": "rsi"}, "mark": {"type": "line", "strokeWidth": 0.9},
       "encoding": {"x": {"field": "d", "type": "temporal", "scale": {"domain": [{"year":1998,"month":11,"date":9},{"year":2011,"month":1,"date":19}]}},
                    "y": {"field": "v", "type": "quantitative", "scale": {"domain": [0, 114]}},
                    "color": {"datum": "RSI(14) 55.37", "scale": {"range": ["#111111"]}, "legend": {"symbolType": "triangle-up", "symbolFillColor": "#4f8a4f", "symbolStrokeColor": "#2e5e2e", "symbolStrokeWidth": 0.5, "symbolSize": 18}}}}
    ]
  },
  {
    "width": 360, "height": 58,
    "layer": [
      {"data": {"name": "spx"}, "mark": {"type": "line", "strokeWidth": 0.9},
       "encoding": {"x": {"field": "d", "type": "temporal", "scale": {"domain": [{"year":1998,"month":11,"date":9},{"year":2011,"month":1,"date":19}]}, "axis": {"labels": false, "grid": true, "tickCount": {"interval": "month", "step": 6}}},
                    "y": {"field": "v", "type": "quantitative", "scale": {"domain": [613, 1700], "zero": false}, "axis": {"orient": "right", "values": [800, 1000, 1200, 1400], "labels": false, "grid": true}},
                    "color": {"datum": "$SPX (Weekly) 1254.60", "scale": {"range": ["#111111"]}}}},
      {"data": {"name": "spxTicks"}, "mark": {"type": "text", "align": "left", "baseline": "middle", "dx": 3, "fontSize": 6, "color": "#444", "clip": false},
       "encoding": {"x": {"datum": {"year": 2011, "month": 1, "date": 19}, "type": "temporal", "scale": {"domain": [{"year":1998,"month":11,"date":9},{"year":2011,"month":1,"date":19}]}},
                    "y": {"field": "y", "type": "quantitative", "scale": {"domain": [613, 1700], "zero": false}}, "text": {"field": "y"}}},
      {"data": {"name": "spxTrend"}, "mark": {"type": "line", "color": "#2a2aff", "strokeWidth": 1.5, "clip": false},
       "encoding": {"x": {"field": "d", "type": "temporal", "scale": {"domain": [{"year":1998,"month":11,"date":9},{"year":2011,"month":1,"date":19}]}},
                    "y": {"field": "v", "type": "quantitative", "scale": {"domain": [613, 1700], "zero": false}}}}
    ]
  },
  {
    "width": 360, "height": 160,
    "layer": [
      {"data": {"name": "ssec"}, "mark": {"type": "line", "strokeWidth": 0, "opacity": 0},
       "encoding": {"x": {"field": "d", "type": "temporal", "scale": {"domain": [{"year":1998,"month":11,"date":9},{"year":2011,"month":1,"date":19}]},
                          "axis": {"grid": true, "tickCount": {"interval": "month", "step": 6}, "labelExpr": "month(datum.value) == 0 && year(datum.value) < 2011 ? timeFormat(datum.value, '%Y') : ''", "labelPadding": 1.5, "labelFlush": false, "labelBound": false}},
                    "y": {"field": "p", "type": "quantitative", "scale": {"type": "log", "domain": [955, 6200]}, "axis": {"orient": "right", "values": [1000, 1500, 2000, 2500, 3000, 3500, 4000, 4500, 5000, 5500, 6000], "format": "d", "grid": true, "labelOverlap": false}}}},
      {"data": {"name": "e20"}, "mark": {"type": "line", "strokeWidth": 0.9},
       "encoding": {"x": {"field": "d", "type": "temporal", "scale": {"domain": [{"year":1998,"month":11,"date":9},{"year":2011,"month":1,"date":19}]}},
                    "y": {"field": "v", "type": "quantitative", "scale": {"type": "log", "domain": [955, 6200]}},
                    "color": {"datum": "EMA(20) 2833.33", "scale": {"domain": ["$SSEC (Weekly) 2904.11", "EMA(20) 2833.33", "EMA(5) 2889.54"], "range": ["#111111", "#4444cc", "#ee1111"]}}}},
      {"data": {"name": "ssec"}, "mark": {"type": "line", "strokeWidth": 1},
       "encoding": {"x": {"field": "d", "type": "temporal", "scale": {"domain": [{"year":1998,"month":11,"date":9},{"year":2011,"month":1,"date":19}]}},
                    "y": {"field": "p", "type": "quantitative", "scale": {"type": "log", "domain": [955, 6200]}},
                    "color": {"datum": "$SSEC (Weekly) 2904.11", "scale": {"domain": ["$SSEC (Weekly) 2904.11", "EMA(20) 2833.33", "EMA(5) 2889.54"], "range": ["#111111", "#4444cc", "#ee1111"]}}}},
      {"data": {"name": "ssec"}, "mark": {"type": "line", "strokeWidth": 1.1},
       "encoding": {"x": {"field": "d", "type": "temporal", "scale": {"domain": [{"year":1998,"month":11,"date":9},{"year":2011,"month":1,"date":19}]}},
                    "y": {"field": "e5", "type": "quantitative", "scale": {"type": "log", "domain": [955, 6200]}},
                    "color": {"datum": "EMA(5) 2889.54", "scale": {"domain": ["$SSEC (Weekly) 2904.11", "EMA(20) 2833.33", "EMA(5) 2889.54"], "range": ["#111111", "#4444cc", "#ee1111"]}}}},
      {"data": {"name": "tri"}, "mark": {"type": "line", "color": "#2a2aff", "strokeWidth": 1.5, "clip": false},
       "encoding": {"x": {"field": "d", "type": "temporal", "scale": {"domain": [{"year":1998,"month":11,"date":9},{"year":2011,"month":1,"date":19}]}},
                    "y": {"field": "v", "type": "quantitative", "scale": {"type": "log", "domain": [955, 6200]}}, "detail": {"field": "s"}}},
      {"data": {"values": [{"d1": "2005-03-10", "d2": "2009-03-20", "v1": 2678, "v2": 4641}]}, "mark": {"type": "rect", "fill": "#ffffff", "stroke": "#9a9a9a", "strokeWidth": 1},
       "encoding": {"x": {"field": "d1", "type": "temporal", "scale": {"domain": [{"year":1998,"month":11,"date":9},{"year":2011,"month":1,"date":19}]}}, "x2": {"field": "d2"},
                    "y": {"field": "v1", "type": "quantitative", "scale": {"type": "log", "domain": [955, 6200]}}, "y2": {"field": "v2"}}},
      {"data": {"name": "note"}, "mark": {"type": "text", "align": "left", "baseline": "middle", "fontSize": 9.6, "color": "#2424ff"},
       "encoding": {"x": {"field": "d", "type": "temporal", "scale": {"domain": [{"year":1998,"month":11,"date":9},{"year":2011,"month":1,"date":19}]}},
                    "y": {"field": "v", "type": "quantitative", "scale": {"type": "log", "domain": [955, 6200]}}, "text": {"field": "t"}}},
      {"data": {"values": [{"d": "2009-07-11", "v": 3760, "t": "⬇"}]}, "mark": {"type": "text", "align": "center", "baseline": "middle", "fontSize": 12, "color": "#2424ff", "font": "DejaVu Sans"},
       "encoding": {"x": {"field": "d", "type": "temporal", "scale": {"domain": [{"year":1998,"month":11,"date":9},{"year":2011,"month":1,"date":19}]}},
                    "y": {"field": "v", "type": "quantitative", "scale": {"type": "log", "domain": [955, 6200]}}, "text": {"field": "t"}}}
    ]
  },
  {
    "width": 360, "height": 7,
    "view": {"stroke": null},
    "data": {"values": []},
    "mark": "point"
  },
  {
    "width": 360, "height": 57,
    "layer": [
      {"data": {"name": "sto"}, "mark": {"type": "line", "strokeWidth": 0, "opacity": 0},
       "encoding": {"x": {"field": "d", "type": "temporal", "scale": {"domain": [{"year":1998,"month":11,"date":9},{"year":2011,"month":1,"date":19}]},
                          "axis": {"grid": true, "tickCount": {"interval": "month", "step": 6}, "labelExpr": "month(datum.value) == 0 && year(datum.value) < 2011 ? timeFormat(datum.value, '%Y') : ''", "labelPadding": 1.5, "labelFlush": false, "labelBound": false}},
                    "y": {"field": "k", "type": "quantitative", "scale": {"domain": [-7, 111]}, "axis": {"orient": "right", "values": [20, 50, 80], "labels": false, "grid": true}}}},
      {"data": {"values": [{"y": 80}, {"y": 20}]}, "mark": {"type": "rule", "color": "#8f8f8f", "strokeWidth": 1},
       "encoding": {"y": {"field": "y", "type": "quantitative", "scale": {"domain": [-7, 111]}}}},
      {"data": {"values": [{"y": 50}]}, "mark": {"type": "rule", "color": "#aaaaaa", "strokeWidth": 1, "strokeDash": [5, 2, 1, 2]},
       "encoding": {"y": {"field": "y", "type": "quantitative", "scale": {"domain": [-7, 111]}}}},
      {"data": {"name": "stoTicks"}, "mark": {"type": "text", "align": "left", "baseline": "middle", "dx": 3, "fontSize": 6, "color": "#444", "clip": false},
       "encoding": {"x": {"datum": {"year": 2011, "month": 1, "date": 19}, "type": "temporal", "scale": {"domain": [{"year":1998,"month":11,"date":9},{"year":2011,"month":1,"date":19}]}},
                    "y": {"field": "y", "type": "quantitative", "scale": {"domain": [-7, 111]}}, "text": {"field": "y"}}},
      {"data": {"name": "sto"}, "mark": {"type": "line", "color": "#cc1111", "strokeWidth": 1.3},
       "encoding": {"x": {"field": "d", "type": "temporal", "scale": {"domain": [{"year":1998,"month":11,"date":9},{"year":2011,"month":1,"date":19}]}},
                    "y": {"field": "m", "type": "quantitative", "scale": {"domain": [-7, 111]}}}},
      {"data": {"name": "sto"}, "mark": {"type": "line", "strokeWidth": 1.1},
       "encoding": {"x": {"field": "d", "type": "temporal", "scale": {"domain": [{"year":1998,"month":11,"date":9},{"year":2011,"month":1,"date":19}]}},
                    "y": {"field": "k", "type": "quantitative", "scale": {"domain": [-7, 111]}},
                    "color": {"datum": "Slow STO %K(14) %D(3) 49.91, 47.20", "scale": {"range": ["#111111"]}}}}
    ]
  }
]
}
